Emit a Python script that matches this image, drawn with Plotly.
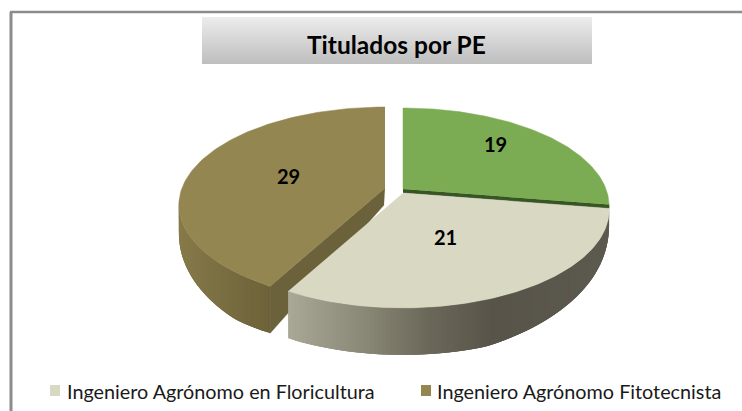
import numpy as np
import plotly.graph_objects as go

# ---- data ----
values = [19, 21, 29]
legend_labels = ["Ingeniero Agrónomo en Floricultura", "Ingeniero Agrónomo Fitotecnista"]
title_text = "Titulados por PE"

# ---- style / geometry ----
top_colors = ["#7bac53", "#d9d8c2", "#938650"]
apex = [(403, 189), (403, 193), (385, 188)]
RX, A, K, DEPTH = 203, 95, 0.173, 47
label_fraction = [0.72, 0.47, 0.5]
label_dtheta = [-6, 2, 0]
beige_wall = [(288, "#aaa998"), (360, "#8c8a78"), (427, "#6c695b"), (493, "#585449"), (610, "#5d5a50")]
brown_wall = [(175, "#887c4b"), (215, "#7c7144"), (270, "#6d6239")]
W, H = 742, 411


def project(c, theta, f=1.0):
    t = np.radians(theta)
    u, v = f * np.sin(t), -f * np.cos(t)
    den = 1 - K * v
    return c[0] + RX * u / den, c[1] + A * v / den


def drop(theta):
    dist = theta - 90 if theta < 180 else 290 - theta
    return DEPTH * min(1.0, max(dist, 0) / 70) ** 0.6


def hex2rgb(h):
    return np.array([int(h[i:i + 2], 16) for i in (1, 3, 5)], float)


def ramp(stops, x):
    xs = [s[0] for s in stops]
    rgb = np.array([hex2rgb(s[1]) for s in stops])
    c = [np.interp(x, xs, rgb[:, i]) for i in range(3)]
    return "rgb(%d,%d,%d)" % tuple(c)


def poly(fig, xs, ys, color, line=0.0):
    fig.add_trace(go.Scatter(
        x=list(xs), y=list(ys), mode="lines", fill="toself", fillcolor=color,
        line=dict(color=color, width=line), hoverinfo="skip", showlegend=False))


def wall(fig, c, t0, t1, stops, forward=True):
    # Strips overlap the following ones, so that no white shows between them.
    th = np.linspace(t0, t1, int(round(t1 - t0)) + 1)
    last = len(th) - 1
    order = range(last) if forward else range(last, 0, -1)
    for i in order:
        j = min(i + 3, last) if forward else max(i - 3, 0)
        k = i + 1 if forward else i - 1
        xa, ya = project(c, th[i])
        xb, yb = project(c, th[j])
        xm, _ = project(c, th[k])
        poly(fig, [xa, xb, xb, xa], [ya, yb, yb + drop(th[j]), ya + drop(th[i])],
             ramp(stops, (xa + xm) / 2), line=0)


def sector(fig, c, t0, t1, color):
    th = np.linspace(t0, t1, 120)
    pts = [project(c, t) for t in th]
    poly(fig, [c[0]] + [p[0] for p in pts], [c[1]] + [p[1] for p in pts], color, line=0.5)


total = sum(values)
edges = np.cumsum([0] + values) / total * 360
fig = go.Figure()

# brown slice (third value)
wall(fig, apex[2], edges[2], 264, brown_wall)
tx, ty = project(apex[2], edges[2])
poly(fig, [apex[2][0], tx, tx, apex[2][0] - 1],
     [apex[2][1], ty, ty + drop(edges[2]), apex[2][1] + 17], "#6b623c", line=0.5)
sector(fig, apex[2], edges[2], edges[3], top_colors[2])

# green slice (first value) with its dark cut edge
gx, gy = project(apex[0], edges[1])
poly(fig, [apex[0][0], gx, gx, apex[0][0]],
     [apex[0][1], gy, gy + 4, apex[0][1] + 4], "#375623", line=0.5)
sector(fig, apex[0], edges[0], edges[1], top_colors[0])

# beige slice (second value)
wall(fig, apex[1], edges[1], edges[2], beige_wall, forward=False)
sector(fig, apex[1], edges[1], edges[2], top_colors[1])

annotations = []
for i, val in enumerate(values):
    mid = (edges[i] + edges[i + 1]) / 2 + label_dtheta[i]
    lx, ly = project(apex[i], mid, label_fraction[i])
    annotations.append(dict(x=lx, y=ly, text=f"<b>{val}</b>", showarrow=False,
                            font=dict(family="Lato", size=20, color="black")))

annotations.append(dict(x=396, y=44, text=f"<b>{title_text}</b>", showarrow=False,
                        font=dict(family="Lato", size=24.5, color="black")))

legend_sq_x = [50, 421]
legend_txt_x = [65, 435]
for lab, tx_ in zip(legend_labels, legend_txt_x):
    annotations.append(dict(x=tx_, y=391, text=lab, showarrow=False, xanchor="left",
                            font=dict(family="Lato", size=19.8, color="#1a1a1a")))

shapes = [
    dict(type="line", x0=11, x1=11, y0=12, y1=H, line=dict(color="#8c8c8c", width=3), layer="below"),
    dict(type="line", x0=10, x1=W, y0=12, y1=12, line=dict(color="#8c8c8c", width=2.5), layer="below"),
]
# title box vertical gradient
box_top, box_bot = 17, 64
c0, c1 = hex2rgb("#ececec"), hex2rgb("#bfbfbf")
for y in range(box_top, box_bot):
    m = (y - box_top) / (box_bot - box_top - 1)
    c = c0 + (c1 - c0) * m
    shapes.append(dict(type="rect", x0=202, x1=592, y0=y, y1=y + 1, layer="below",
                       fillcolor="rgb(%d,%d,%d)" % tuple(c), line=dict(width=0)))
for sq, col in zip(legend_sq_x, top_colors[1:]):
    shapes.append(dict(type="rect", x0=sq, x1=sq + 10, y0=385, y1=396, fillcolor=col,
                       line=dict(width=0), layer="below"))

fig.update_layout(
    width=W, height=H, margin=dict(l=0, r=0, t=0, b=0),
    paper_bgcolor="white", plot_bgcolor="white", showlegend=False,
    xaxis=dict(range=[0, W], visible=False, fixedrange=True),
    yaxis=dict(range=[H, 0], visible=False, fixedrange=True),
    annotations=annotations, shapes=shapes,
)
fig.write_html("out.html", config=dict(displayModeBar=False),
               post_script="document.body.style.margin='0';")
